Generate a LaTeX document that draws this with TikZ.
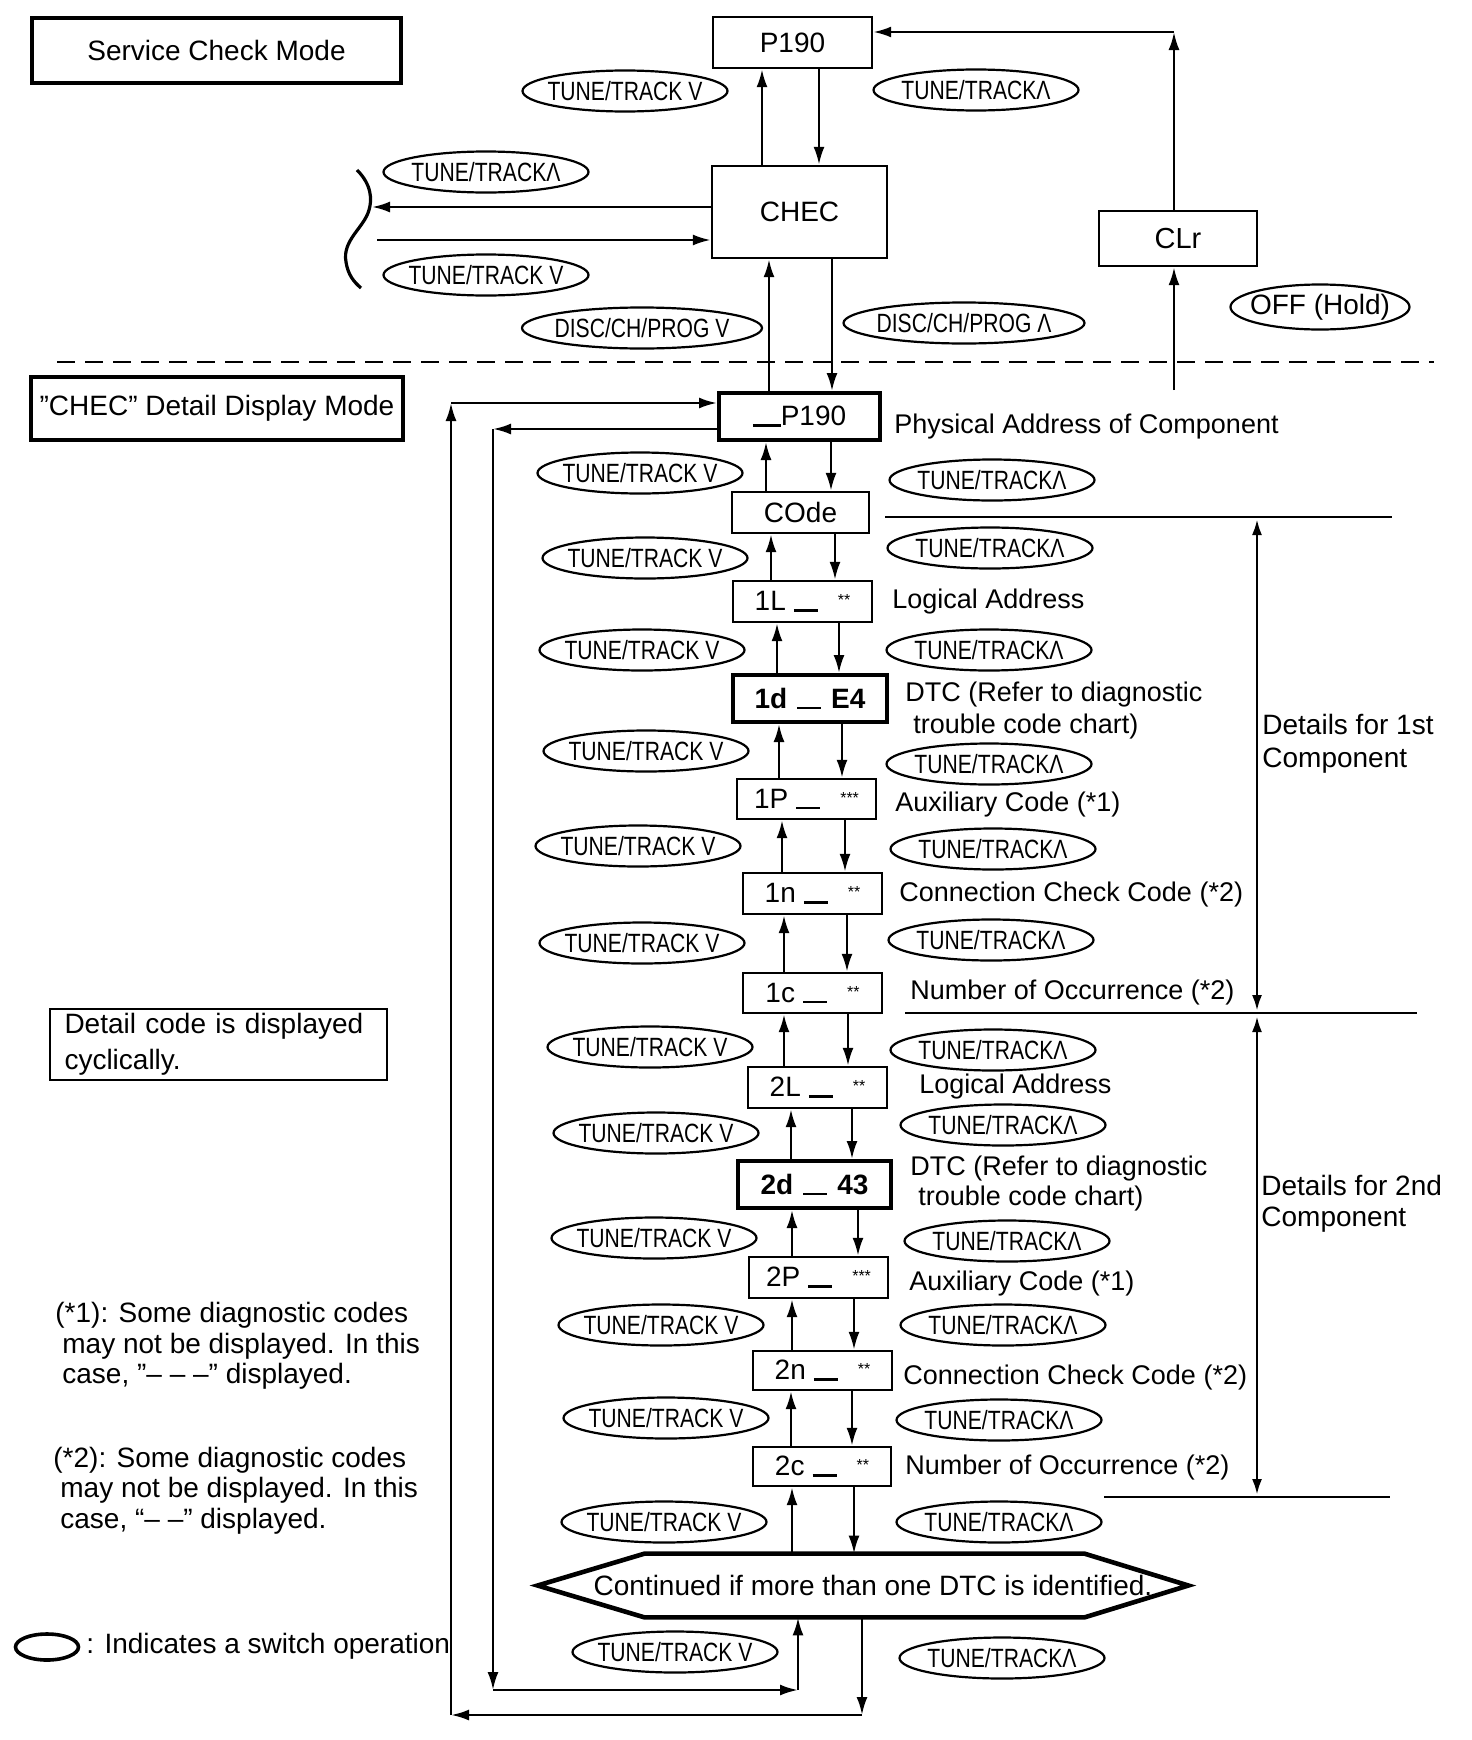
\documentclass[tikz,border=0pt]{standalone}
\usepackage{fontspec}
\setmainfont{Liberation Sans}
\newfontfamily\condf[FakeStretch=0.8]{Liberation Sans}
\usetikzlibrary{arrows.meta,shapes.geometric,calc}
\newcommand\dsh{\rule[-0.5pt]{12pt}{1.3pt}}
\newcommand\strs[1]{\raisebox{2.5pt}{\fontsize{8}{8}\selectfont #1}}
\newcommand\cb[1]{\makebox[0pt][c]{#1}}
\newcommand\updn[4]{%
  \draw[arr] (#2.north -| #3,0) -- (#1.south -| #3,0);%
  \draw[arr] (#1.south -| #4,0) -- (#2.north -| #4,0);}
\begin{document}
\begin{tikzpicture}[x=0.5pt,y=-0.5pt,
  every node/.style={font=\fontsize{14}{16}\selectfont},
  box/.style={draw, line width=1.2pt, inner sep=0pt},
  tbox/.style={draw, line width=2pt, inner sep=0pt},
  sw/.style={ellipse, draw, line width=1.1pt, inner sep=0pt, minimum width=102.5pt, minimum height=20.5pt, font=\condf\fontsize{13.2}{14}\selectfont},
  arr/.style={line width=1.25pt, -{Latex[length=9pt,width=5.5pt]}},
  darr/.style={line width=1.4pt, {Latex[length=8pt,width=5pt]}-{Latex[length=8pt,width=5pt]}},
  lbl/.style={anchor=west, inner sep=0pt, font=\fontsize{13.5}{16}\selectfont},
  note/.style={anchor=west, inner sep=0pt, font=\fontsize{14}{16}\selectfont},
]
\useasboundingbox (0,0) rectangle (1472,1740);

% ---------- Service check mode ----------
\node[tbox, minimum width=184.5pt, minimum height=32.5pt] (svc) at (216.5,50.5) {Service Check Mode};
\node[box, minimum width=79.5pt, minimum height=25.5pt] (p190) at (792.5,42.5) {P190};
\node[box, minimum width=87.5pt, minimum height=46pt] (chec) at (799.5,212) {CHEC};
\node[box, minimum width=79pt, minimum height=27.5pt, font=\fontsize{14.5}{16}\selectfont] (clr) at (1178,238.5) {CLr};

\node[sw] (e1) at (625,91) {\cb{TUNE/TRACK V}};
\node[sw] (e2) at (976,90) {\cb{TUNE/TRACKΛ}};
\node[sw] (e3) at (486,172) {\cb{TUNE/TRACKΛ}};
\node[sw] (e4) at (486,275) {\cb{TUNE/TRACK V}};
\node[sw, minimum width=120pt] (e5) at (642,328) {\cb{DISC/CH/PROG V}};
\node[sw, minimum width=120.5pt] (e6) at (964,323) {\cb{DISC/CH/PROG Λ}};
\node[sw, minimum width=89.5pt, minimum height=22.5pt, font=\fontsize{14}{16}\selectfont] (e7) at (1320,307) {\cb{OFF (Hold)}};

\updn{p190}{chec}{762}{819}

% CLr return
\coordinate (tc) at (1174,32);
\coordinate (cb) at (1174,390);
\draw[arr] (clr.north -| tc) -- (tc);
\draw[arr] (tc) -- (p190.east |- tc);
\draw[arr] (cb) -- (clr.south -| cb);

% left bracket
\coordinate (bl) at (372,207);
\coordinate (br) at (377,240);
\draw[arr] (chec.west |- bl) -- (bl);
\draw[arr] (br) -- (chec.west |- br);
\draw[line width=1.6pt] (357,170) .. controls (372,185) and (372,200) .. (369,210)
  .. controls (364,228) and (342,240) .. (346,262)
  .. controls (348,275) and (354,282) .. (361,288);

% dashed separator
\draw[line width=1pt, dash pattern=on 9pt off 5pt] (57,362) -- (1434,362);

% ---------- Detail display mode ----------
\node[tbox, minimum width=186pt, minimum height=31.5pt] (dm) at (217,408.5) {”CHEC” Detail Display Mode};

\node[tbox, minimum width=80.5pt, minimum height=23.5pt] (p190b) at (799.5,416.5) {\rule[-0.5pt]{14pt}{1.3pt}P190};
\node[box, minimum width=68.5pt, minimum height=20.5pt] (code) at (800.5,512.5) {COde};
\node[box, minimum width=69.5pt, minimum height=20.5pt] (l1) at (802.5,601.5) {1L\hspace{4pt}\dsh\hspace{10pt}\strs{**}};
\node[tbox, minimum width=77pt, minimum height=23.5pt, font=\bfseries\fontsize{14}{16}\selectfont] (d1) at (810,698.5) {1d\hspace{5pt}\dsh\hspace{5pt}E4};
\node[box, minimum width=69.5pt, minimum height=20pt] (p1) at (806.5,799) {1P\hspace{4pt}\dsh\hspace{10pt}\strs{***}};
\node[box, minimum width=69.5pt, minimum height=20.5pt] (n1) at (812.5,893.5) {1n\hspace{4pt}\dsh\hspace{10pt}\strs{**}};
\node[box, minimum width=69.5pt, minimum height=20pt] (c1) at (812.5,993) {1c\hspace{4pt}\dsh\hspace{10pt}\strs{**}};
\node[box, minimum width=69.5pt, minimum height=20.5pt] (l2) at (817.5,1087.5) {2L\hspace{4pt}\dsh\hspace{10pt}\strs{**}};
\node[tbox, minimum width=76.5pt, minimum height=23.5pt, font=\bfseries\fontsize{14}{16}\selectfont] (d2) at (814.5,1184.5) {2d\hspace{5pt}\dsh\hspace{5pt}43};
\node[box, minimum width=69.5pt, minimum height=20.5pt] (p2) at (818.5,1277.5) {2P\hspace{4pt}\dsh\hspace{10pt}\strs{***}};
\node[box, minimum width=69.5pt, minimum height=19.5pt] (n2) at (822.5,1370.5) {2n\hspace{4pt}\dsh\hspace{10pt}\strs{**}};
\node[box, minimum width=69pt, minimum height=19.5pt] (c2) at (822,1466.5) {2c\hspace{4pt}\dsh\hspace{10pt}\strs{**}};

% continued hexagon
\node[minimum width=219.5pt, minimum height=31.5pt, inner sep=0pt] (cont) at (864.5,1585.5) {};
\draw[line width=2.3pt, line join=miter] (cont.north west) -- (cont.north east) -- ($(cont.east)+(104,0)$)
  -- (cont.south east) -- (cont.south west) -- ($(cont.west)+(-107,0)$) -- cycle;
\node (conttxt) at (873,1585) {Continued if more than one DTC is identified.};

% vertical arrows
\updn{p190b}{code}{766}{831}
\updn{code}{l1}{771}{835}
\updn{l1}{d1}{777}{839}
\updn{d1}{p1}{779}{842}
\updn{p1}{n1}{782}{845}
\updn{n1}{c1}{784}{847}
\updn{c1}{l2}{784}{848}
\updn{l2}{d2}{791}{852}
\updn{d2}{p2}{792}{858}
\updn{p2}{n2}{792}{854}
\updn{n2}{c2}{791}{852}
\updn{c2}{cont}{792}{854}
\updn{chec}{p190b}{769}{832}

% loops
\coordinate (otl) at (451,403);
\coordinate (obl) at (451,1715);
\coordinate (ob) at (862,1715);
\draw[arr] (cont.south -| ob) -- (ob);
\draw[arr] (ob) -- (obl);
\draw[arr] (obl) -- (otl);
\draw[arr] (otl) -- (p190b.west |- otl);
\coordinate (itl) at (493,429);
\coordinate (ibl) at (493,1690);
\coordinate (ibr) at (798,1690);
\draw[arr] (p190b.west |- itl) -- (itl);
\draw[arr] (itl) -- (ibl);
\draw[arr] (ibl) -- (ibr);
\draw[arr] (ibr) -- (cont.south -| ibr);

% switch ellipses, left
\node[sw] (a1) at (640,473) {\cb{TUNE/TRACK V}};
\node[sw] (a2) at (645,558) {\cb{TUNE/TRACK V}};
\node[sw] (a3) at (642,650) {\cb{TUNE/TRACK V}};
\node[sw] (a4) at (646,751) {\cb{TUNE/TRACK V}};
\node[sw] (a5) at (638,846) {\cb{TUNE/TRACK V}};
\node[sw] (a6) at (642,943) {\cb{TUNE/TRACK V}};
\node[sw] (a7) at (650,1047) {\cb{TUNE/TRACK V}};
\node[sw] (a8) at (656,1133) {\cb{TUNE/TRACK V}};
\node[sw] (a9) at (654,1238) {\cb{TUNE/TRACK V}};
\node[sw] (a10) at (661,1325) {\cb{TUNE/TRACK V}};
\node[sw] (a11) at (666,1418) {\cb{TUNE/TRACK V}};
\node[sw] (a12) at (664,1522) {\cb{TUNE/TRACK V}};
\node[sw] (a13) at (675,1652) {\cb{TUNE/TRACK V}};
% right
\node[sw] (b1) at (992,480) {\cb{TUNE/TRACKΛ}};
\node[sw] (b2) at (990,548) {\cb{TUNE/TRACKΛ}};
\node[sw] (b3) at (989,650) {\cb{TUNE/TRACKΛ}};
\node[sw] (b4) at (989,764) {\cb{TUNE/TRACKΛ}};
\node[sw] (b5) at (993,849) {\cb{TUNE/TRACKΛ}};
\node[sw] (b6) at (991,940) {\cb{TUNE/TRACKΛ}};
\node[sw] (b7) at (993,1050) {\cb{TUNE/TRACKΛ}};
\node[sw] (b8) at (1003,1125) {\cb{TUNE/TRACKΛ}};
\node[sw] (b9) at (1007,1241) {\cb{TUNE/TRACKΛ}};
\node[sw] (b10) at (1003,1325) {\cb{TUNE/TRACKΛ}};
\node[sw] (b11) at (999,1420) {\cb{TUNE/TRACKΛ}};
\node[sw] (b12) at (999,1522) {\cb{TUNE/TRACKΛ}};
\node[sw] (b13) at (1002,1658) {\cb{TUNE/TRACKΛ}};

% right labels
\node[lbl] (t1) at (894,427) {Physical Address of Component};
\node[lbl] (t2) at (892,602) {Logical Address};
\node[lbl] (t3) at (905,695) {DTC (Refer to diagnostic};
\node[lbl] (t3b) at (913,727) {trouble code chart)};
\node[lbl] (t4) at (895,805) {Auxiliary Code (*1)};
\node[lbl] (t5) at (899,895) {Connection Check Code (*2)};
\node[lbl] (t6) at (910,993) {Number of Occurrence (*2)};
\node[lbl] (t7) at (919,1087) {Logical Address};
\node[lbl] (t8) at (910,1169) {DTC (Refer to diagnostic};
\node[lbl] (t8b) at (918,1198) {trouble code chart)};
\node[lbl] (t9) at (909,1284) {Auxiliary Code (*1)};
\node[lbl] (t10) at (903,1377) {Connection Check Code (*2)};
\node[lbl] (t11) at (905,1467) {Number of Occurrence (*2)};

% component brackets
\draw[line width=1pt] (885,517) -- (1392,517);
\draw[line width=1pt] (905,1013) -- (1417,1013);
\draw[line width=1pt] (1104,1497) -- (1390,1497);
\coordinate (k1) at (1257,519);
\coordinate (k2) at (1257,1011);
\coordinate (k3) at (1257,1016);
\coordinate (k4) at (1257,1495);
\draw[darr] (k1) -- (k2);
\draw[darr] (k3) -- (k4);
\node[note, align=left, font=\fontsize{14}{16.5}\selectfont] (det1) at (1262,743.5) {Details for 1st\\Component};
\node[note, align=left, font=\fontsize{14}{15.5}\selectfont] (det2) at (1261,1204) {Details for 2nd\\Component};

% left notes
\node[draw, line width=1.2pt, minimum width=168.5pt, minimum height=35.5pt, inner xsep=7pt, inner ysep=0pt, text width=154pt, align=left, font=\fontsize{14}{18}\selectfont] (cyc) at (218.5,1044.5) {Detail code is displayed\\cyclically.};
\node[note] (n1a) at (55,1315) {(*1): Some diagnostic codes};
\node[note] (n1b) at (62,1346) {may not be displayed. In this};
\node[note] (n1c) at (62,1376) {case, ”– – –” displayed.};
\node[note] (n2a) at (53,1460) {(*2): Some diagnostic codes};
\node[note] (n2b) at (60,1490) {may not be displayed. In this};
\node[note] (n2c) at (60,1521) {case, “– –” displayed.};
\node[ellipse, draw, line width=1.8pt, minimum width=31.5pt, minimum height=13pt, inner sep=0pt] (leg) at (47,1647) {};
\node[note] (legt) at (86,1646) {: Indicates a switch operation};
\end{tikzpicture}
\end{document}
